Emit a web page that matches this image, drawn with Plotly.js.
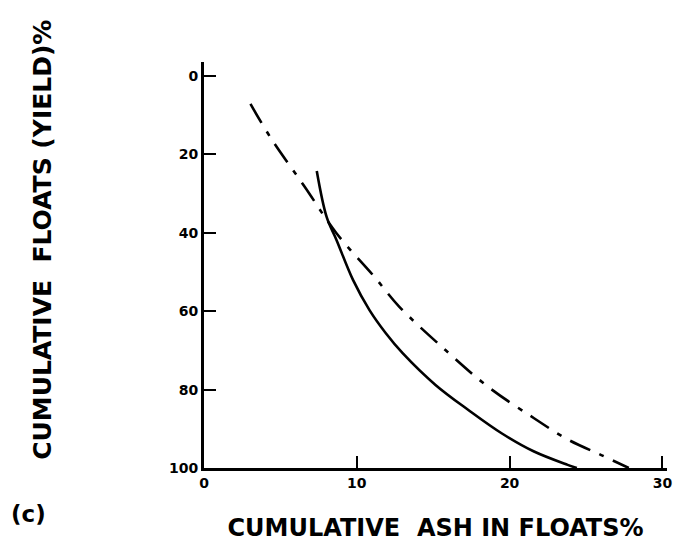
<!DOCTYPE html>
<html>
<head>
<meta charset="utf-8">
<script src="https://cdn.plot.ly/plotly-3.0.1.min.js"></script>
<style>html,body{margin:0;padding:0;background:#fff;}#chart{width:676px;height:552px;}</style>
</head>
<body>
<div id="chart"></div>
<script>
// Solid curve (cumulative floats vs cumulative ash)
const solidAsh   = [7.38, 8.03, 8.67, 9.75, 10.83, 11.9, 13.0, 15.15, 17.3, 19.5, 21.6, 23.8, 24.4];
const solidYield = [24.2, 36, 41.8, 52.0, 59.7, 65.6, 70.7, 78.8, 85.2, 91.2, 95.8, 99.2, 100];
// Dash-dot curve
const dashAsh   = [3.04, 4.34, 6.6, 8.67, 11.15, 12.77, 15.8, 18.6, 21.6, 23.8, 26.0, 27.8];
const dashYield = [7.1, 15.6, 28.3, 40.1, 51.2, 58.8, 69.9, 79.3, 87.3, 92.7, 96.7, 100];
const xTicks = [0, 10, 20, 30];
const yTicks = [0, 20, 40, 60, 80, 100];

const F = "DejaVu Sans, sans-serif";
const traces = [
  {x: dashAsh, y: dashYield, mode: 'lines', line: {color: '#000', width: 2.6, dash: '22px,10px,5px,10px', shape: 'spline', smoothing: 1}, hoverinfo: 'skip'},
  {x: solidAsh, y: solidYield, mode: 'lines', line: {color: '#000', width: 2.6, shape: 'spline', smoothing: 1}, hoverinfo: 'skip'}
];
const layout = {
  width: 676, height: 552,
  margin: {l: 204, r: 9, t: 62, b: 84},
  paper_bgcolor: '#fff', plot_bgcolor: '#fff',
  showlegend: false,
  font: {family: F, color: '#000'},
  xaxis: {
    range: [0, 30.3], showgrid: false, zeroline: false,
    showline: true, linecolor: '#000', linewidth: 3,
    ticks: 'inside', ticklen: 12, tickwidth: 2, tickcolor: '#000',
    tickvals: xTicks, ticktext: xTicks.map(String),
    ticklabeloverflow: 'allow',
    tickfont: {family: F, size: 14, color: '#000', weight: 'bold'},
    title: {text: 'CUMULATIVE  ASH IN FLOATS%', standoff: 30, font: {family: F, size: 24, color: '#000', weight: 'bold'}}
  },
  yaxis: {
    range: [100, -3.6], showgrid: false, zeroline: false,
    showline: true, linecolor: '#000', linewidth: 3,
    ticks: 'inside', ticklen: 12, tickwidth: 2, tickcolor: '#000',
    tickvals: yTicks, ticktext: yTicks.map(String),
    tickfont: {family: F, size: 14, color: '#000', weight: 'bold'}
  },
  annotations: [
    {text: 'CUMULATIVE  FLOATS (YIELD)%', xref: 'paper', yref: 'paper', x: -0.348, y: 0.5616, textangle: -90,
     xanchor: 'center', yanchor: 'middle', showarrow: false,
     font: {family: F, size: 25, color: '#000', weight: 'bold'}},
    {text: '(c)', xref: 'paper', yref: 'paper', x: -0.380, y: -0.113, xanchor: 'center', yanchor: 'middle', showarrow: false,
     font: {family: F, size: 23, color: '#000', weight: 'bold'}}
  ]
};
Plotly.newPlot('chart', traces, layout, {staticPlot: true, displayModeBar: false});
</script>
</body>
</html>
